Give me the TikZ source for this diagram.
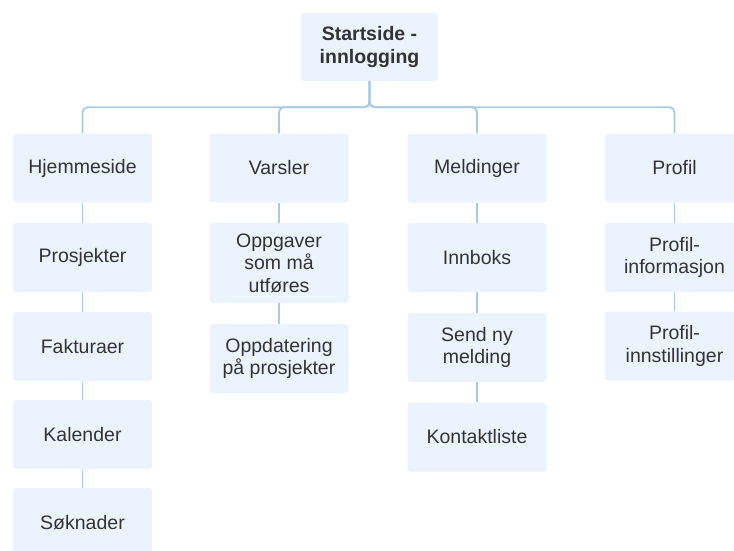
\documentclass[tikz,border=0pt]{standalone}
\usepackage{fontspec}
\setmainfont{Liberation Sans}
\definecolor{boxfill}{HTML}{EBF4FE}
\definecolor{linkline}{HTML}{A9C9E9}
\definecolor{ink}{HTML}{333333}
\begin{document}
\begin{tikzpicture}[x=1pt,y=-1pt,
  page/.style={fill=boxfill, rounded corners=3pt, align=center, text=ink,
    minimum width=139pt, minimum height=69pt, inner sep=2pt,
    font=\fontsize{19.5}{22.5}\selectfont},
  root/.style={page, minimum width=137pt, minimum height=68pt,
    font=\fontsize{19.5}{22.5}\selectfont\bfseries},
  conn/.style={draw=linkline, line width=1.8pt}]
\useasboundingbox (0,0) rectangle (734,550);
\begin{scope}
\clip (0,0) rectangle (734,550);

% root
\node[root] (top) at (369.5,47) {Startside -\\innlogging};

% column 1
\node[page] (hj)  at (82.5,168)   {Hjemmeside};
\node[page] (pro) at (82.5,257.5) {Prosjekter};
\node[page] (fak) at (82.5,346.5) {Fakturaer};
\node[page] (kal) at (82.5,434.5) {Kalender};
\node[page] (sok) at (82.5,522.5) {Søknader};

% column 2
\node[page] (var) at (279,168) {Varsler};
\node[page, minimum height=80pt] (opg) at (279,263) {Oppgaver\\som må\\utføres};
\node[page] (opd) at (279,358.5) {Oppdatering\\på prosjekter};

% column 3
\node[page] (mel) at (477,168)   {Meldinger};
\node[page] (inn) at (477,257.5) {Innboks};
\node[page] (snd) at (477,347.5) {Send ny\\melding};
\node[page] (kon) at (477,437)   {Kontaktliste};

% column 4
\node[page] (prf) at (674.5,168)   {Profil};
\node[page] (pin) at (674.5,257.5) {Profil-\\informasjon};
\node[page] (pst) at (674.5,346)   {Profil-\\innstillinger};

% bus from the root to each column
\foreach \c in {hj,var,mel,prf}
  \draw[conn, rounded corners=5pt] (top.south) -- ++(0,26) -| (\c.north);

% links inside the columns
\foreach \a/\b in {hj/pro,pro/fak,fak/kal,kal/sok,var/opg,opg/opd,mel/inn,inn/snd,snd/kon,prf/pin,pin/pst}
  \draw[conn] (\a.south) -- (\b.north);
\end{scope}
\end{tikzpicture}
\end{document}
